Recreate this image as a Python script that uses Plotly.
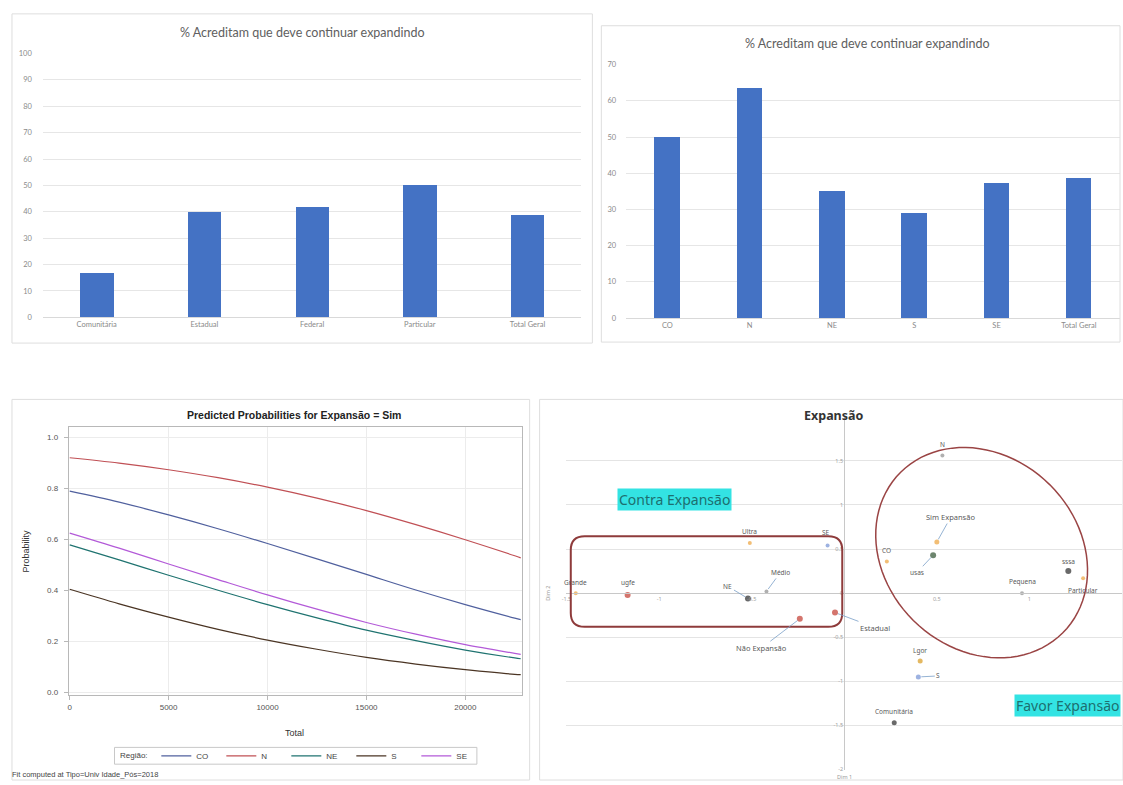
import numpy as np
import plotly.graph_objects as go

W, H = 1123, 785

# ---------------- data ----------------
# % who believe expansion should continue, by institution type
tipo_cats = ["Comunitária", "Estadual", "Federal", "Particular", "Total Geral"]
tipo_pct = [16.7, 39.8, 41.7, 50.0, 38.8]

# % who believe expansion should continue, by region
regiao_cats = ["CO", "N", "NE", "S", "SE", "Total Geral"]
regiao_pct = [50.0, 63.6, 35.1, 29.0, 37.4, 38.8]

# predicted probabilities for Expansão = Sim versus Total
total_vals = [0, 2500, 5000, 7500, 10000, 12500, 15000, 17500, 20000, 22500, 22800]
prob_co = [0.789, 0.746, 0.696, 0.642, 0.584, 0.524, 0.463, 0.402, 0.345, 0.292, 0.286]
prob_n = [0.920, 0.899, 0.873, 0.842, 0.805, 0.762, 0.713, 0.658, 0.599, 0.536, 0.528]
prob_ne = [0.579, 0.520, 0.460, 0.401, 0.345, 0.293, 0.245, 0.204, 0.167, 0.136, 0.133]
prob_s = [0.405, 0.348, 0.296, 0.248, 0.206, 0.170, 0.138, 0.112, 0.090, 0.072, 0.071]
prob_se = [0.625, 0.566, 0.504, 0.443, 0.383, 0.327, 0.275, 0.229, 0.188, 0.154, 0.150]

# correspondence map coordinates
ca_labels = ["Grande", "ugfe", "Ultra", "SE", "Médio", "NE", "Não Expansão", "Estadual",
             "CO", "N", "Sim Expansão", "usas", "Pequena", "sssa", "Particular", "Lgor",
             "S", "Comunitária"]
ca_dim1 = [-1.45, -1.17, -0.51, -0.09, -0.42, -0.52, -0.24, -0.05,
           0.23, 0.53, 0.50, 0.48, 0.96, 1.21, 1.29, 0.41, 0.40, 0.27]
ca_dim2 = [0.00, -0.02, 0.57, 0.54, 0.02, -0.06, -0.29, -0.22,
           0.36, 1.56, 0.58, 0.43, 0.00, 0.25, 0.17, -0.77, -0.95, -1.47]

# ---------------- styles ----------------
ORANGE, RED, BLACK, BLUE, GRAY = "#eda23a", "#c23b2f", "#2a2a2a", "#7392d4", "#8f8f8f"
ca_colors = [ORANGE, RED, ORANGE, BLUE, GRAY, BLACK, RED, RED,
             ORANGE, GRAY, ORANGE, "#2f5130", GRAY, BLACK, ORANGE, "#d99a1e", BLUE, BLACK]
ca_sizes = [4, 6, 4, 4, 4, 6, 6, 6, 4, 4, 5, 6, 4, 6, 4, 5, 5, 5]
# label placement: (dx, dy, leader) in screen pixels
ca_label_pos = {
    "Grande": (0, -11, False), "ugfe": (0, -12, False), "Ultra": (0, -11, False),
    "SE": (-2, -13, False), "Médio": (14, -19, True), "NE": (-20, -12, True),
    "Não Expansão": (-38, 29, True), "Estadual": (40, 15, True), "CO": (0, -11, False),
    "N": (0, -11, False), "Sim Expansão": (14, -25, True), "usas": (-16, 17, True),
    "Pequena": (0, -12, False), "sssa": (0, -10, False), "Particular": (0, 12, False),
    "Lgor": (0, -11, False), "S": (20, -1, True), "Comunitária": (0, -11, False),
}

curve_colors = {"CO": "#50609e", "N": "#c05055", "NE": "#1f7370", "S": "#4b3524", "SE": "#b35ad8"}

EXCEL_FONT = "Lato"
SAS_FONT = "Liberation Sans"
BAR_BLUE = "#4472c4"


def px(x):
    return x / W


def py(y):
    return 1 - y / H


def note(x, y, text, font, **kw):
    """Free text placed in page pixels."""
    d = dict(x=px(x), y=py(y), xref="paper", yref="paper", xanchor="center",
             yanchor="middle", showarrow=False, text=text, font=font)
    d.update(kw)
    return d


fig = go.Figure()

# ---------------- panel 1: bars by type ----------------
fig.add_trace(go.Bar(x=tipo_cats, y=tipo_pct, marker=dict(color=BAR_BLUE, line=dict(width=0)),
                     width=0.31, xaxis="x", yaxis="y", showlegend=False))

# ---------------- panel 2: bars by region ----------------
fig.add_trace(go.Bar(x=regiao_cats, y=regiao_pct, marker=dict(color=BAR_BLUE, line=dict(width=0)),
                     width=0.31, xaxis="x2", yaxis="y2", showlegend=False))

# ---------------- panel 3: predicted probability curves ----------------
for name, vals in [("CO", prob_co), ("N", prob_n), ("NE", prob_ne), ("S", prob_s), ("SE", prob_se)]:
    fig.add_trace(go.Scatter(x=total_vals, y=vals, mode="lines", name=name,
                             line=dict(color=curve_colors[name], width=1.2, shape="spline"),
                             xaxis="x3", yaxis="y3", legend="legend"))

# ---------------- panel 4: correspondence map ----------------
fig.add_trace(go.Scatter(x=ca_dim1, y=ca_dim2, mode="markers",
                         marker=dict(color=ca_colors, size=ca_sizes, line=dict(width=0)),
                         xaxis="x4", yaxis="y4", showlegend=False))

annotations = []
for lab, xv, yv in zip(ca_labels, ca_dim1, ca_dim2):
    dx, dy, leader = ca_label_pos[lab]
    big = lab in ("Não Expansão", "Estadual", "Sim Expansão")
    a = dict(x=xv, y=yv, xref="x4", yref="y4", text=lab, xanchor="center", yanchor="middle",
             font=dict(family="Noto Sans", size=7.5 if big else 6.5, color="#5a5a5a"))
    if leader:
        a.update(showarrow=True, ax=dx, ay=dy, arrowhead=0, arrowwidth=0.8,
                 arrowcolor="#7aa0c8", standoff=3)
    else:
        a.update(showarrow=False, xshift=dx, yshift=-dy)
    annotations.append(a)

title_font = dict(family=EXCEL_FONT, size=12.5, color="#606060")
annotations += [
    note(299, 29, "% Acreditam que deve continuar expandindo", title_font),
    note(866, 40, "% Acreditam que deve continuar expandindo", title_font),
    note(290, 416, "<b>Predicted Probabilities for Expansão = Sim</b>",
         dict(family=SAS_FONT, size=10.5, color="#222")),
    note(291, 737, "Total", dict(family=SAS_FONT, size=9, color="#333")),
    note(21, 553, "Probability", dict(family=SAS_FONT, size=9, color="#333"), textangle=-90),
    note(130, 760, "Região:", dict(family=SAS_FONT, size=8, color="#444")),
    note(5, 779, "Fit computed at Tipo=Univ Idade_Pós=2018",
         dict(family=SAS_FONT, size=7.5, color="#444"), xanchor="left"),
    note(833, 416, "<b>Expansão</b>", dict(family="Noto Sans", size=12.5, color="#333")),
    note(843, 782, "Dim 1", dict(family="Noto Sans", size=5.5, color="#999")),
    note(546, 596, "Dim 2", dict(family="Noto Sans", size=5.5, color="#999"), textangle=-90),
    note(672, 501.5, "Contra Expansão", dict(family="Noto Sans", size=14, color="#1d6f6f"),
         bgcolor="#33e3e3", borderpad=1),
    note(1067, 709.5, "Favor Expansão", dict(family="Noto Sans", size=14, color="#1d6f6f"),
         bgcolor="#33e3e3", borderpad=1),
]

# ---------------- shapes ----------------
shapes = []
for (x0, y0, x1, y1) in [(7, 10, 590, 343), (599, 22, 1120, 342), (7, 400, 527, 785), (537, 400, 1123, 785)]:
    shapes.append(dict(type="rect", xref="paper", yref="paper", x0=px(x0), x1=px(x1),
                       y0=py(y1), y1=py(y0), line=dict(color="#dedede", width=1)))
# legend frame
shapes.append(dict(type="rect", xref="paper", yref="paper", x0=px(110), x1=px(474),
                   y0=py(769), y1=py(752), line=dict(color="#c8c8c8", width=1)))

# rounded frame around the "against" group
rx0, ry0, rx1, ry1, r = 568.3, 538.3, 841.0, 630.0, 14


def P(x, y):
    return f"{px(x):.5f},{py(y):.5f}"


rpath = (f"M {P(rx0 + r, ry0)} L {P(rx1 - r, ry0)} Q {P(rx1, ry0)} {P(rx1, ry0 + r)} "
         f"L {P(rx1, ry1 - r)} Q {P(rx1, ry1)} {P(rx1 - r, ry1)} L {P(rx0 + r, ry1)} "
         f"Q {P(rx0, ry1)} {P(rx0, ry1 - r)} L {P(rx0, ry0 + r)} Q {P(rx0, ry0)} {P(rx0 + r, ry0)} Z")
shapes.append(dict(type="path", xref="paper", yref="paper", path=rpath,
                   line=dict(color="#8e3b3b", width=2)))

# tilted ellipse around the "favor" group
cx, cy, ea, eb, th = 981.0, 555.0, 115.0, 97.0, np.deg2rad(45)
tt = np.linspace(0, 2 * np.pi, 97)
ex = cx + ea * np.cos(tt) * np.cos(th) - eb * np.sin(tt) * np.sin(th)
ey = cy + ea * np.cos(tt) * np.sin(th) + eb * np.sin(tt) * np.cos(th)
epath = "M " + " L ".join(P(a, b) for a, b in zip(ex, ey)) + " Z"
shapes.append(dict(type="path", xref="paper", yref="paper", path=epath,
                   line=dict(color="#9a4444", width=1.5)))

# ---------------- axes ----------------
excel_tick = dict(family=EXCEL_FONT, size=7.5, color="#8a8a8a")
sas_tick = dict(family=SAS_FONT, size=8, color="#555")
ca_tick = dict(family="Noto Sans", size=5.5, color="#a0a0a0")

fig.update_layout(
    width=W, height=H, margin=dict(l=0, r=0, t=0, b=0),
    paper_bgcolor="white", plot_bgcolor="white",
    bargap=0,
    xaxis=dict(domain=[px(38), px(579)], type="category", tickfont=excel_tick,
               showline=True, linecolor="#d9d9d9", ticks="", showgrid=False),
    yaxis=dict(domain=[py(317), py(50)], range=[0, 100], dtick=10, tickfont=excel_tick,
               gridcolor="#e6e6e6", zeroline=False, showline=False, ticks="",
               ticklabelstandoff=10, anchor="x"),
    xaxis2=dict(domain=[px(624), px(1120)], type="category", tickfont=excel_tick, anchor="y2",
                showline=True, linecolor="#d9d9d9", ticks="", showgrid=False),
    yaxis2=dict(domain=[py(317.7), py(61.3)], range=[0, 70], dtick=10, tickfont=excel_tick,
                gridcolor="#e6e6e6", zeroline=False, ticks="", anchor="x2", ticklabelstandoff=9),
    xaxis3=dict(domain=[px(64), px(519)], range=[-50, 22850], anchor="y3",
                tickvals=[0, 5000, 10000, 15000, 20000], tickformat="d", tickfont=sas_tick,
                showline=True, linecolor="#b8b8b8", mirror=True, ticks="outside",
                ticklen=4, tickcolor="#b8b8b8", gridcolor="#ececec", zeroline=False),
    yaxis3=dict(domain=[py(699), py(428)], range=[-0.009, 1.04], anchor="x3",
                tickvals=[0, 0.2, 0.4, 0.6, 0.8, 1.0], tickformat=".1f", tickfont=sas_tick,
                showline=True, linecolor="#b8b8b8", mirror=True, ticks="outside",
                ticklen=4, tickcolor="#b8b8b8", gridcolor="#ececec", zeroline=False,
                ticklabelstandoff=4),
    xaxis4=dict(domain=[px(564), px(1122)], range=[-1.5, 1.5], anchor="free",
                position=py(596), tickvals=[-1.5, -1, -0.5, 0, 0.5, 1, 1.5],
                ticktext=["-1.5", "-1", "-0.5", "", "0.5", "1", "1.5"], tickfont=ca_tick,
                showline=True, linecolor="#c8c8c8", linewidth=1, showgrid=False,
                zeroline=False, ticks=""),
    yaxis4=dict(domain=[py(774.4), py(417.6)], range=[-2, 2], anchor="free",
                position=px(843), tickvals=[-2, -1.5, -1, -0.5, 0, 0.5, 1, 1.5, 2],
                ticktext=["-2", "-1.5", "-1", "-0.5", "0", "0.5", "1", "1.5", ""],
                tickfont=ca_tick,
                showline=True, linecolor="#c8c8c8", linewidth=1, gridcolor="#e4e4e4",
                zeroline=False, ticks=""),
    legend=dict(orientation="h", x=px(152), y=py(760.5), xanchor="left", yanchor="middle",
                font=dict(family=SAS_FONT, size=8, color="#444"),
                borderwidth=0, bgcolor="rgba(0,0,0,0)",
                itemwidth=30, tracegroupgap=0, entrywidth=20, entrywidthmode="pixels"),
    annotations=annotations,
    shapes=shapes,
)

fig.write_html("out.html")
